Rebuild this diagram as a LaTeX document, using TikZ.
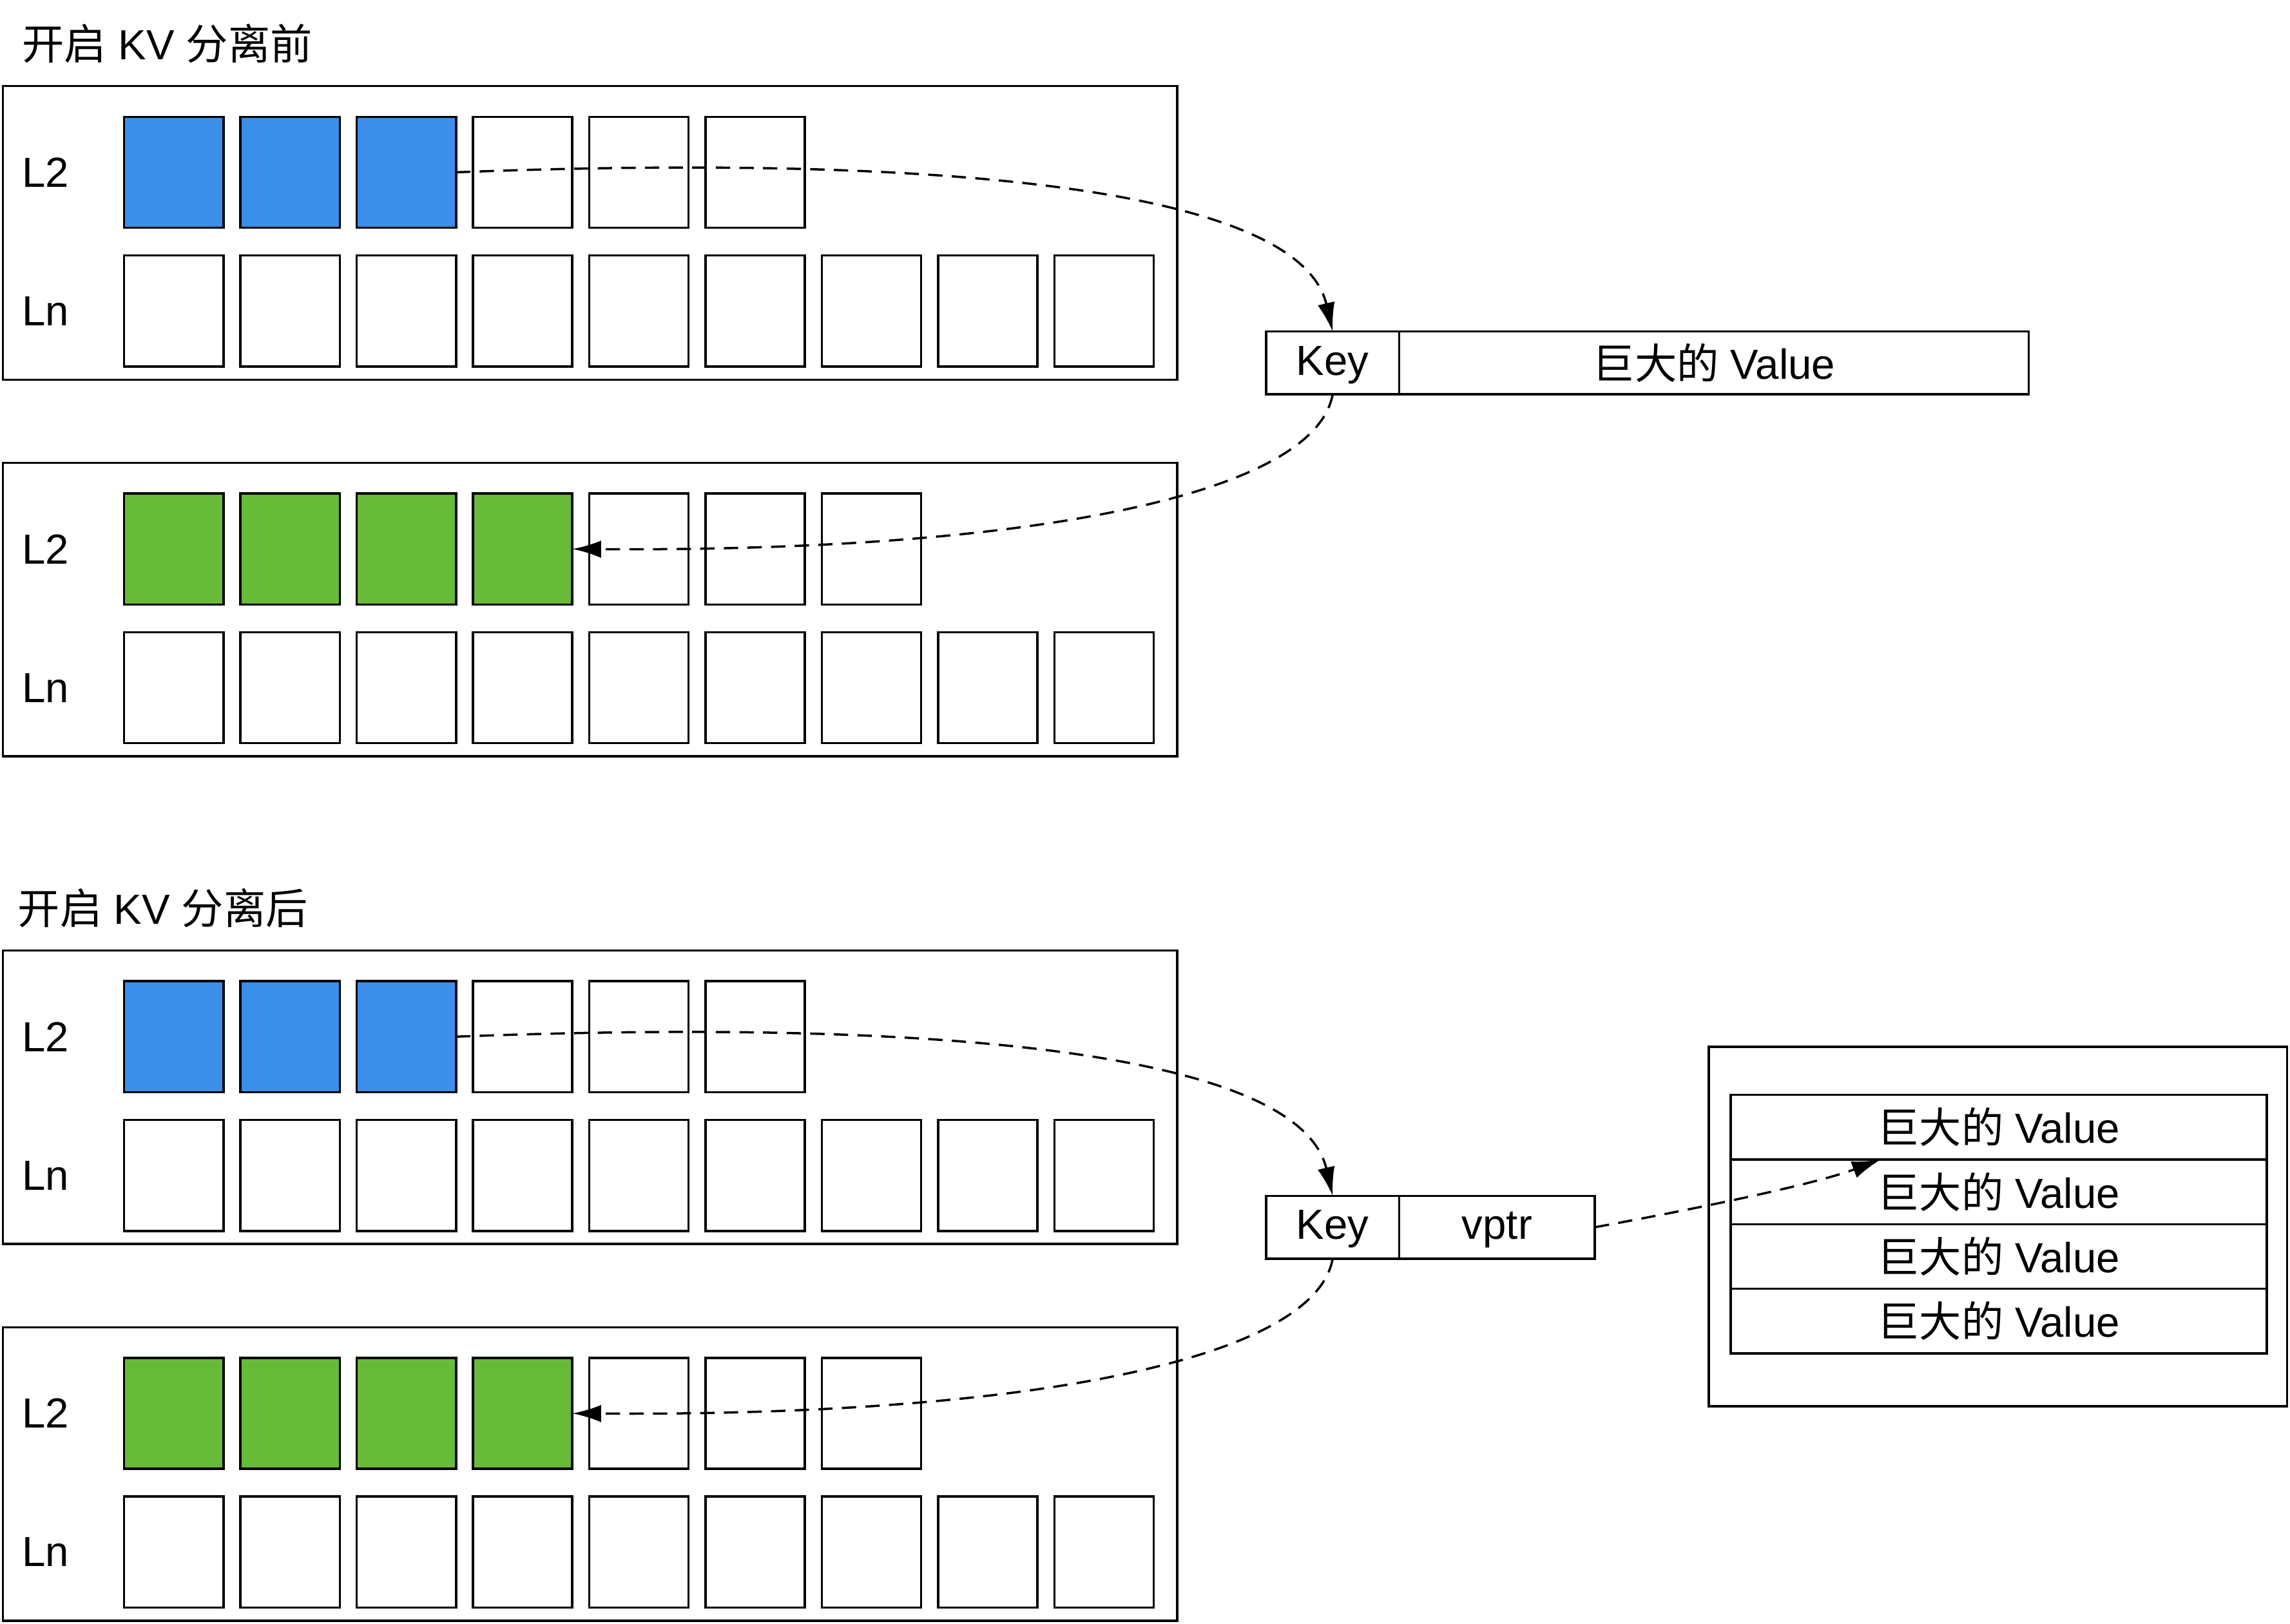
\documentclass[tikz,border=0pt]{standalone}
\usepackage{fontspec}
\setmainfont{Liberation Sans}
\newfontfamily\cjk{Noto Sans CJK SC}
\usepackage{tikz}
\usetikzlibrary{positioning}
\usetikzlibrary{calc}
\usetikzlibrary{arrows.meta}
\definecolor{kvblue}{RGB}{59,142,234}
\definecolor{kvgreen}{RGB}{103,187,56}
\newcommand{\bigval}{{\cjk 巨大的} Value}

\begin{document}
\begin{tikzpicture}[
    x=0.025cm, y=-0.025cm,  % one unit per pixel of the sketch, y going down
    node distance=0pt,      % boxes that touch each other
    ]
% -------------------------------------------------
\tikzset{
  base/.style={draw, line width=1.1pt, outer sep=0pt, inner sep=0pt, align=center, font=\fontsize{20.5}{24}\selectfont},
  panel/.style={base, rectangle, minimum width=20.1cm, minimum height=5.025cm},
  cell/.style={base, rectangle, minimum width=1.7cm, minimum height=1.9cm, fill=white},
  keycell/.style={base, rectangle, minimum width=2.275cm, minimum height=1.075cm},
  keytext/.style={keycell, text height=16pt, text depth=4.2pt},
  vrow/.style={base, rectangle, minimum width=9.175cm, minimum height=1.106cm},
  lvl/.style={font=\fontsize{20.5}{24}\selectfont, anchor=west, inner sep=0pt},
  ptr/.style={draw, line width=1.1pt, dash pattern=on 7pt off 4.5pt, -{Latex[length=14pt,width=8.5pt]}}
}

\useasboundingbox (0,0) rectangle (1568,1112);

\node [lvl] (ttl1) at (15,30) {{\cjk 开启} KV {\cjk 分离前}};
\node [lvl] (ttl2) at (12,622) {{\cjk 开启} KV {\cjk 分离后}};

% the four LSM panels: L2 row on top, Ln row below
\foreach \p/\py/\fc/\nf/\nt in {1/59/kvblue/3/6, 2/317/kvgreen/4/7, 3/651/kvblue/3/6, 4/909/kvgreen/4/7} {
  \node [panel] (lv\p) at (404,\py+100.5) {};
  \node [lvl] (lvtop\p) at (15,\py+59) {L2};
  \node [lvl] (lvbot\p) at (15,\py+154) {Ln};
  \foreach \i in {1,...,\nt} {
    \ifnum\i>\nf \def\cf{white}\else \def\cf{\fc}\fi
    \node [cell, fill=\cf] (up\p-\i) at ({119+79.625*(\i-1)},\py+59) {};
  }
  \foreach \i in {1,...,9}
    \node [cell] (dn\p-\i) at ({119+79.625*(\i-1)},\py+154) {};
}

% before: key with its value inline
\node [keytext] (key1) at (912.5,248.5) {Key};
\node [keycell, minimum width=10.775cm, right=of key1] (big1) {\bigval};

% after: key with a pointer into the value store
\node [keytext] (key2) at (912.5,840.5) {Key};
\node [keytext, minimum width=3.35cm, right=of key2] (vptr) {vptr};

\node [base, minimum width=9.9cm, minimum height=6.15cm] (store) at (1368,840) {};
\node [vrow] (val1) at (1368.5,772) {\bigval};
\foreach \i [count=\j from 2] in {1,2,3}
  \node [vrow, below=of val\i] (val\j) {\bigval};

\path [ptr] (up1-3.east) .. controls (650,105) and (890,130) .. (key1.north);
\path [ptr] (key1.south) .. controls (900,340) and (700,378) .. (up2-4.east);
\path [ptr] (up3-3.east) .. controls (650,697) and (890,722) .. (key2.north);
\path [ptr] (key2.south) .. controls (900,932) and (700,970) .. (up4-4.east);
\path [ptr] (vptr.east) .. controls (1150,830) and (1240,812) .. ($(val2.north west)!0.28!(val2.north east)$);

\end{tikzpicture}
\end{document}
